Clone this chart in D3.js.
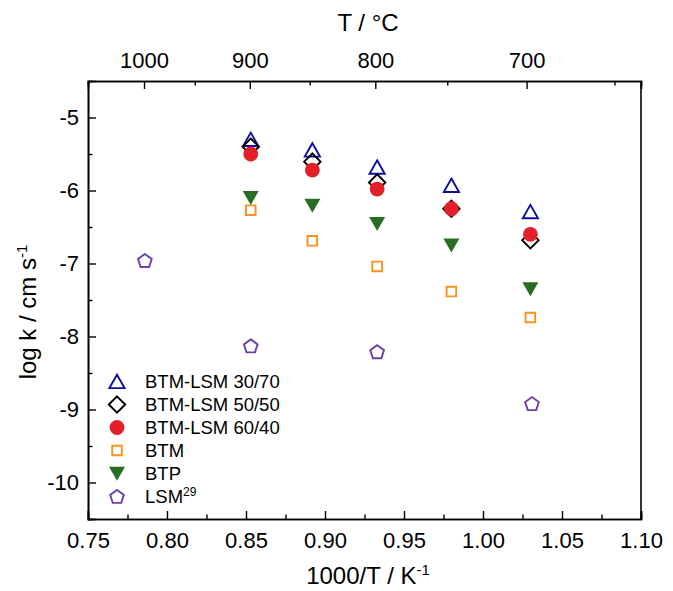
<!DOCTYPE html>
<html>
<head>
<meta charset="utf-8">
<script src="https://cdn.jsdelivr.net/npm/d3@7/dist/d3.min.js"></script>
<style>
  html, body { margin: 0; padding: 0; background: #fff; }
  svg { display: block; }
  text { font-family: "Liberation Sans", Arial, sans-serif; fill: #000; }
</style>
</head>
<body>
<svg id="chart" width="673" height="591"></svg>
<script>
// Inverse temperature (1000/T, K^-1) of the measurement points
const xMain = [0.853, 0.892, 0.933, 0.980, 1.030];
const xLSM  = [0.786, 0.853, 0.933, 1.031];

// log k (cm s^-1) per sample
const bl3070 = [-5.30, -5.445, -5.68, -5.93, -6.29];
const bl5050 = [-5.40, -5.605, -5.89, -6.25, -6.68];
const bl6040 = [-5.50, -5.72, -5.98, -6.25, -6.60];
const btm    = [-6.27, -6.69, -7.04, -7.385, -7.74];
const btp    = [-6.10, -6.205, -6.455, -6.75, -7.35];
const lsm    = [-6.96, -8.13, -8.21, -8.92];

// Axis ticks
const xTicks = [0.75, 0.80, 0.85, 0.90, 0.95, 1.00, 1.05, 1.10];
const xMinor = [0.775, 0.825, 0.875, 0.925, 0.975, 1.025, 1.075];
const yTicks = [-5, -6, -7, -8, -9, -10];
const yMinor = [-5.5, -6.5, -7.5, -8.5, -9.5, -10.5];
const tTicks = [1000, 900, 800, 700];     // °C
const tMinor = [950, 850, 750, 650];      // °C

const series = [
  { name: "BTM-LSM 30/70", x: xMain, y: bl3070, shape: "triUp",   color: "#0d0d9e", fill: "none" },
  { name: "BTM-LSM 50/50", x: xMain, y: bl5050, shape: "diamond", color: "#000000", fill: "none" },
  { name: "BTM-LSM 60/40", x: xMain, y: bl6040, shape: "circle",  color: "#e3202a", fill: "#e3202a" },
  { name: "BTM",           x: xMain, y: btm,    shape: "square",  color: "#f7921e", fill: "none" },
  { name: "BTP",           x: xMain, y: btp,    shape: "triDown", color: "#286e22", fill: "#286e22" },
  { name: "LSM", sup: "29", x: xLSM, y: lsm,    shape: "pentagon", color: "#6f3fa6", fill: "none" }
];

const svg = d3.select("#chart");
const m = { left: 88, right: 641, top: 81, bottom: 519 };

const x = d3.scaleLinear().domain([0.75, 1.10]).range([m.left, m.right]);
const y = d3.scaleLinear().domain([-10.5, -4.5]).range([m.bottom, m.top]);

const tickFont = "22px";

// Bottom axis (ticks point inward)
const gB = svg.append("g").attr("transform", `translate(0,${m.bottom})`);
gB.call(d3.axisBottom(x).tickValues(xTicks).tickSize(-8).tickPadding(13)
  .tickFormat(d3.format(".2f")));
gB.append("g").call(d3.axisBottom(x).tickValues(xMinor).tickSize(-4.5).tickFormat(""));

// Left axis
const gL = svg.append("g").attr("transform", `translate(${m.left},0)`);
gL.call(d3.axisLeft(y).tickValues(yTicks).tickSize(-8).tickPadding(9)
  .tickFormat(d => String(d)));
gL.append("g").call(d3.axisLeft(y).tickValues(yMinor).tickSize(-4.5).tickFormat(""));

// Top axis: temperature in °C placed at 1000/(T+273.15)
const toInv = t => 1000 / (t + 273.15);
const gT = svg.append("g").attr("transform", `translate(0,${m.top})`);
gT.call(d3.axisTop(x).tickValues(tTicks.map(toInv)).tickSize(-8).tickPadding(13)
  .tickFormat((d, i) => tTicks[i]));
gT.append("g").call(d3.axisTop(x).tickValues(tMinor.map(toInv)).tickSize(-4.5).tickFormat(""));

// Right frame line
svg.append("line").attr("x1", m.right).attr("x2", m.right)
  .attr("y1", m.top).attr("y2", m.bottom);

svg.selectAll(".domain").attr("stroke", "#000").attr("stroke-width", 1.6);
svg.selectAll(".tick line").attr("stroke", "#000").attr("stroke-width", 1.4);
svg.selectAll(".tick text").style("font-size", tickFont)
  .style("font-family", '"Liberation Sans", Arial, sans-serif');
svg.selectAll("line").filter(function () { return !this.closest(".tick"); })
  .attr("stroke", "#000").attr("stroke-width", 1.6);

// Marker shapes centred on (0,0)
function shapePath(shape) {
  switch (shape) {
    case "triUp":   return "M0,-6.8L7.6,6.6L-7.6,6.6Z";
    case "triDown": return "M-8,-6.8L8,-6.8L0,7.2Z";
    case "diamond": return "M0,-8.2L8.2,0L0,8.2L-8.2,0Z";
    case "square":  return "M-4.8,-4.8H4.8V4.8H-4.8Z";
    case "pentagon": {
      const r = 7.2, pts = [];
      for (let k = 0; k < 5; k++) {
        const a = -Math.PI / 2 + k * 2 * Math.PI / 5;
        pts.push([r * Math.cos(a), r * Math.sin(a) + 0.6]);
      }
      return "M" + pts.map(p => p.join(",")).join("L") + "Z";
    }
  }
}

function drawMarker(g, s) {
  if (s.shape === "circle") {
    g.append("circle").attr("r", 7.4).attr("fill", s.fill).attr("stroke", "none");
  } else {
    g.append("path").attr("d", shapePath(s.shape))
      .attr("fill", s.fill === "none" ? "none" : s.fill)
      .attr("stroke", s.fill === "none" ? s.color : "none")
      .attr("stroke-width", 1.9)
      .attr("stroke-linejoin", "miter");
  }
}

// Data markers
series.forEach(s => {
  const g = svg.append("g");
  s.x.forEach((xv, i) => {
    const mg = g.append("g").attr("transform", `translate(${x(xv)},${y(s.y[i])})`);
    drawMarker(mg, s);
  });
});

// Legend
const legX = 117, legTextX = 145, legY0 = 381.5, legDy = 23;
series.forEach((s, i) => {
  const ly = legY0 + i * legDy;
  const mg = svg.append("g").attr("transform", `translate(${legX},${ly})`);
  drawMarker(mg, s);
  const t = svg.append("text").attr("x", legTextX).attr("y", ly + 6.5)
    .style("font-size", "18.5px").text(s.name);
  if (s.sup) {
    t.append("tspan").attr("dy", -7).style("font-size", "12px").text(s.sup);
  }
});

// Axis titles
const bt = svg.append("text").attr("x", 368).attr("y", 584)
  .attr("text-anchor", "middle").style("font-size", "24px").text("1000/T / K");
bt.append("tspan").attr("dy", -9).style("font-size", "15px").text("-1");

svg.append("text").attr("x", 368).attr("y", 31)
  .attr("text-anchor", "middle").style("font-size", "24px").text("T / °C");

const lt = svg.append("text").attr("transform", "translate(36,312) rotate(-90)")
  .attr("text-anchor", "middle").style("font-size", "24px").text("log k / cm s");
lt.append("tspan").attr("dy", -9).style("font-size", "15px").text("-1");
</script>
</body>
</html>
